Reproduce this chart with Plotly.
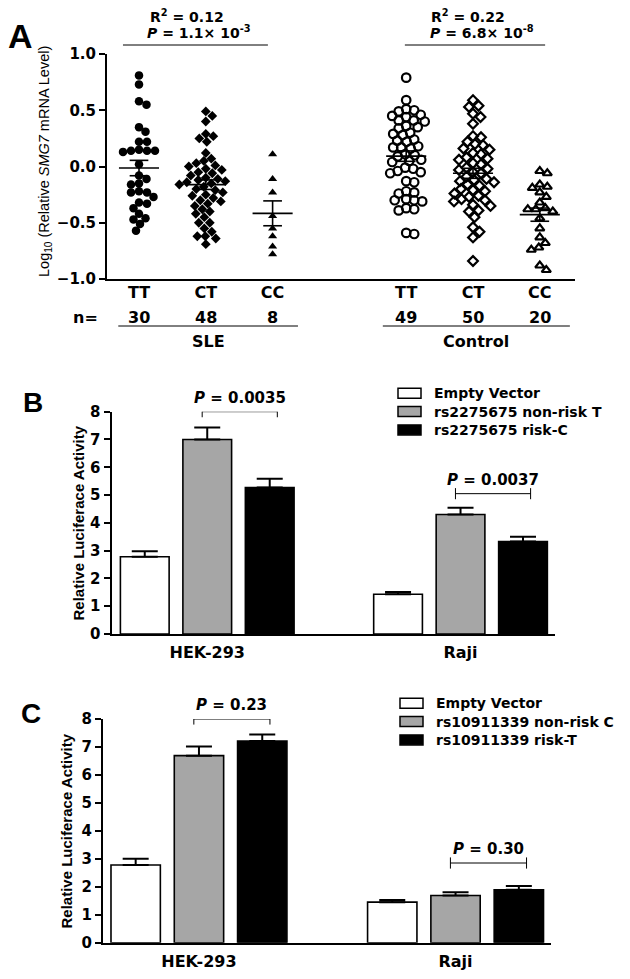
import numpy as np
import plotly.graph_objects as go

# ---------------- DATA ----------------
genotypes = ["TT", "CT", "CC"]
group_names = ["SLE", "Control"]

sle_TT = [0.81, 0.73, 0.55, 0.58, 0.35, 0.31, 0.22, 0.22, 0.14, 0.15, 0.13, 0.14, 0.14,
          0.02, -0.11, -0.16, -0.15, -0.08, -0.23, -0.23, -0.22, -0.27, -0.33, -0.32,
          -0.37, -0.42, -0.47, -0.46, -0.51, -0.57]
sle_CT = [0.49, 0.45, 0.40, 0.29, 0.27, 0.25, 0.22, 0.12, 0.07, 0.05, 0.03, 0.01, 0.00,
          -0.02, -0.03, -0.05, -0.06, -0.08, -0.10, -0.11, -0.12, -0.13, -0.14, -0.15,
          -0.16, -0.18, -0.20, -0.21, -0.23, -0.25, -0.26, -0.28, -0.30, -0.31, -0.33,
          -0.35, -0.38, -0.40, -0.42, -0.45, -0.50, -0.50, -0.55, -0.58, -0.62, -0.62,
          -0.64, -0.69]
sle_CC = [0.11, -0.11, -0.23, -0.44, -0.55, -0.62, -0.71, -0.78]

ctrl_TT = [0.79, 0.59, 0.51, 0.50, 0.49, 0.46, 0.45, 0.44, 0.41, 0.40, 0.41, 0.36, 0.35,
           0.34, 0.30, 0.29, 0.28, 0.24, 0.23, 0.22, 0.18, 0.17, 0.16, 0.17, 0.10, 0.09,
           0.11, 0.05, 0.06, 0.04, -0.01, -0.02, -0.05, -0.04, -0.06, -0.14, -0.13, -0.23,
           -0.22, -0.24, -0.30, -0.31, -0.29, -0.30, -0.38, -0.37, -0.39, -0.60, -0.59]
ctrl_CT = [0.59, 0.53, 0.54, 0.47, 0.44, 0.38, 0.26, 0.27, 0.22, 0.19, 0.20, 0.16, 0.15,
           0.11, 0.12, 0.07, 0.08, 0.06, 0.02, 0.03, -0.02, -0.01, -0.03, -0.05, -0.06,
           -0.09, -0.12, -0.11, -0.13, -0.14, -0.17, -0.16, -0.21, -0.20, -0.22, -0.24,
           -0.26, -0.27, -0.30, -0.29, -0.31, -0.35, -0.34, -0.39, -0.40, -0.45, -0.54,
           -0.58, -0.63, -0.84]
ctrl_CC = [-0.04, -0.06, -0.16, -0.18, -0.19, -0.23, -0.27, -0.32, -0.37, -0.38, -0.38,
           -0.40, -0.46, -0.55, -0.63, -0.68, -0.72, -0.74, -0.88, -0.92]

sle_stats = ["R<sup>2</sup> = 0.12", "<i>P</i> = 1.1× 10<sup>-3</sup>"]
ctrl_stats = ["R<sup>2</sup> = 0.22", "<i>P</i> = 6.8× 10<sup>-8</sup>"]

cell_lines = ["HEK-293", "Raji"]

b_names = ["Empty Vector", "rs2275675 non-risk T", "rs2275675 risk-C"]
b_vals = [[2.78, 1.43], [7.00, 4.30], [5.27, 3.33]]
b_errs = [[0.20, 0.08], [0.43, 0.24], [0.32, 0.17]]
b_pvals = ["0.0035", "0.0037"]

c_names = ["Empty Vector", "rs10911339 non-risk C", "rs10911339 risk-T"]
c_vals = [[2.78, 1.45], [6.69, 1.69], [7.21, 1.89]]
c_errs = [[0.22, 0.08], [0.33, 0.11], [0.24, 0.14]]
c_pvals = ["0.23", "0.30"]

bar_colors = ["white", "#a6a6a6", "black"]

# ---------------- LAYOUT HELPERS ----------------
# page has an 8px body margin: figure is 8px smaller and offset
OFF = 8
W, H = 630 - OFF, 979 - OFF
def px(x): return (x - OFF) / W
def py(y): return 1 - (y - OFF) / H

BOLD = "Liberation Sans"
DV = "DejaVu Sans"

fig = go.Figure()

def note(x, y, text, font, xref="paper", yref="paper", **kw):
    fig.add_annotation(x=x, y=y, xref=xref, yref=yref, text=text, showarrow=False,
                       xanchor=kw.pop("xanchor", "center"), yanchor=kw.pop("yanchor", "middle"),
                       font=font, **kw)

# ---------------- PANEL A ----------------
A_xrange = [-0.479, 6.527]
A_xpx = (575 - 107) / (A_xrange[1] - A_xrange[0])
A_ypx = (279 - 54) / 2.0

def swarm(vals, center, d=7.8):
    vals = np.asarray(vals, float)
    order = np.argsort(-vals)
    placed = []
    xs = np.zeros(len(vals))
    for i in order:
        y = vals[i] * A_ypx
        k = 0
        while True:
            off = ((k + 1) // 2) * (1 if k % 2 else -1) * 0.5
            if all((off - a) ** 2 + (y - b) ** 2 >= d * d for a, b in placed):
                break
            k += 1
        placed.append((off, y))
        xs[i] = center + off / A_xpx
    return xs

groups = [
    (sle_TT, 0, "circle", True, 8.5), (sle_CT, 1, "diamond", True, 7.5),
    (sle_CC, 2, "triangle-up", True, 8),
    (ctrl_TT, 4, "circle-open", False, 8.5), (ctrl_CT, 5, "diamond-open", False, 7.5),
    (ctrl_CC, 6, "triangle-up-open", False, 8),
]
for vals, pos, sym, filled, size in groups:
    fig.add_trace(go.Scatter(
        x=swarm(vals, pos), y=vals, mode="markers", showlegend=False,
        marker=dict(symbol=sym, size=size, color="black",
                    line=dict(width=0 if filled else 2.2, color="black")),
        cliponaxis=False, xaxis="x", yaxis="y"))
    m = float(np.mean(vals))
    s = float(np.std(vals, ddof=1) / np.sqrt(len(vals)))
    hw, cw = 0.3, 0.14
    fig.add_trace(go.Scatter(
        x=[pos - hw, pos + hw, None, pos - cw, pos + cw, None, pos - cw, pos + cw, None, pos, pos],
        y=[m, m, None, m + s, m + s, None, m - s, m - s, None, m - s, m + s],
        mode="lines", line=dict(color="black", width=1.6), showlegend=False,
        hoverinfo="skip", xaxis="x", yaxis="y"))

fA = dict(family=DV, size=16, color="black", weight="bold")
fS = dict(family=DV, size=14, color="black", weight="bold")

# n= row
note(px(85), py(318), "n=", fA)
for vals, pos, _, _, _ in groups:
    note(pos, py(318), str(len(vals)), fA, xref="x")

# group underlines and names
for (x0, x1), name in zip([(-0.31, 2.38), (3.65, 6.45)], group_names):
    fig.add_shape(type="line", xref="x", yref="paper", x0=x0, x1=x1, y0=py(326), y1=py(326),
                  line=dict(color="black", width=1))
    note((x0 + x1) / 2, py(341), name, fA, xref="x")

# stats above
for (x0, x1), (c0, c1), stats in zip([(-0.24, 1.93), (3.98, 6.08)],
                                     [(0.72, 0.90), (4.93, 5.13)], [sle_stats, ctrl_stats]):
    fig.add_shape(type="line", xref="x", yref="paper", x0=x0, x1=x1, y0=py(45), y1=py(45),
                  line=dict(color="black", width=1))
    note(c0, py(16), stats[0], fS, xref="x")
    note(c1, py(32), stats[1], fS, xref="x")

note(px(45), py(162), "Log<sub>10</sub> (Relative <i>SMG7</i> mRNA Level)",
     dict(family=BOLD, size=14.5, color="black"), textangle=-90)
note(px(20), py(36), "A", dict(family=BOLD, size=34, color="black", weight="bold"))

# ---------------- PANELS B, C ----------------
BARGAP = 0.26
fB = dict(family=DV, size=16, color="black", weight="bold")
fT = dict(family=DV, size=15, color="black", weight="bold")
fL = dict(family=DV, size=14, color="black", weight="bold")

def add_bar_panel(names, vals, errs, pvals, xa, ya, bracket_y, tick, leg_x, leg_y):
    for k in range(3):
        fig.add_trace(go.Bar(
            x=cell_lines, y=vals[k], name=names[k], xaxis=xa, yaxis=ya, showlegend=False,
            marker=dict(color=bar_colors[k], line=dict(color="black", width=1.6)),
            error_y=dict(type="data", symmetric=False, array=errs[k], arrayminus=[0, 0],
                         color="black", thickness=2, width=13)))
        # legend entry (box + label)
        yc = leg_y + 18.3 * k
        fig.add_shape(type="rect", xref="paper", yref="paper",
                      x0=px(leg_x), x1=px(leg_x + 23), y0=py(yc + 5), y1=py(yc - 5),
                      fillcolor=bar_colors[k], line=dict(color="black", width=1.5))
        note(px(leg_x + 34), py(yc), names[k], fL, xanchor="left")
    slot = (1 - BARGAP) / 3
    for i, p in enumerate(pvals):
        x0, x1 = i - 0.02, i + slot + 0.03
        y = bracket_y[i]
        for a, b, c, d in [(x0, y, x1, y), (x0, y - tick, x0, y + tick), (x1, y - tick, x1, y + tick)]:
            fig.add_shape(type="line", xref=xa, yref=ya, x0=a, y0=b, x1=c, y1=d,
                          line=dict(color="black", width=1))
        note((x0 + x1) / 2, min(y, 8.0), "<i>P</i> = " + p, fT,
             xref=xa, yref=ya, yanchor="bottom", yshift=3)

add_bar_panel(b_names, b_vals, b_errs, b_pvals, "x2", "y2", [8.0, 5.05], 0.2, 398, 393.3)
add_bar_panel(c_names, c_vals, c_errs, c_pvals, "x3", "y3", [8.0, 2.85], 0.2, 400, 703.3)

for txt, (xx, yy) in zip(["B", "C"], [(33, 402), (31, 713)]):
    note(px(xx), py(yy), txt, dict(family=BOLD, size=28, color="black", weight="bold"))
for xx, yy in [(77.5, 523), (65.5, 831)]:
    note(px(xx), py(yy), "Relative Luciferace Activity",
         dict(family=BOLD, size=15, color="black", weight="bold"), textangle=-90)

axis_common = dict(showline=True, linecolor="black", linewidth=2, showgrid=False,
                   zeroline=False, automargin=False)
ytick_common = dict(ticks="outside", ticklen=6, tickwidth=2, tickcolor="black")

fig.update_layout(
    template="none",
    width=W, height=H, margin=dict(l=0, r=0, t=0, b=0, pad=0, autoexpand=False),
    paper_bgcolor="white", plot_bgcolor="white", showlegend=False,
    barmode="group", bargap=BARGAP, bargroupgap=0.22,
    xaxis=dict(domain=[px(107), px(575)], range=A_xrange, anchor="y", tickmode="array",
               tickvals=[0, 1, 2, 4, 5, 6], ticktext=genotypes * 2, ticks="",
               ticklabelstandoff=-2, tickfont=fA, **axis_common),
    yaxis=dict(domain=[py(279), py(54)], range=[-1, 1], dtick=0.5, tickformat=".1f", anchor="x",
               tickfont=dict(family=DV, size=15, color="black", weight="bold"),
               **ytick_common, **axis_common),
    xaxis2=dict(domain=[px(111.5), px(555)], range=[-0.378, 1.373], type="category", anchor="y2",
                ticks="", ticklabelstandoff=3, tickfont=fB, **axis_common),
    yaxis2=dict(domain=[py(634), py(411.7)], range=[0, 8], dtick=1, anchor="x2",
                tickfont=fT, **ytick_common, **axis_common),
    xaxis3=dict(domain=[px(103), px(551)], range=[-0.374, 1.372], type="category", anchor="y3",
                ticks="", ticklabelstandoff=3, tickfont=fB, **axis_common),
    yaxis3=dict(domain=[py(942.7), py(719)], range=[0, 8], dtick=1, anchor="x3",
                tickfont=fT, **ytick_common, **axis_common),
)

fig.write_html("out.html")
